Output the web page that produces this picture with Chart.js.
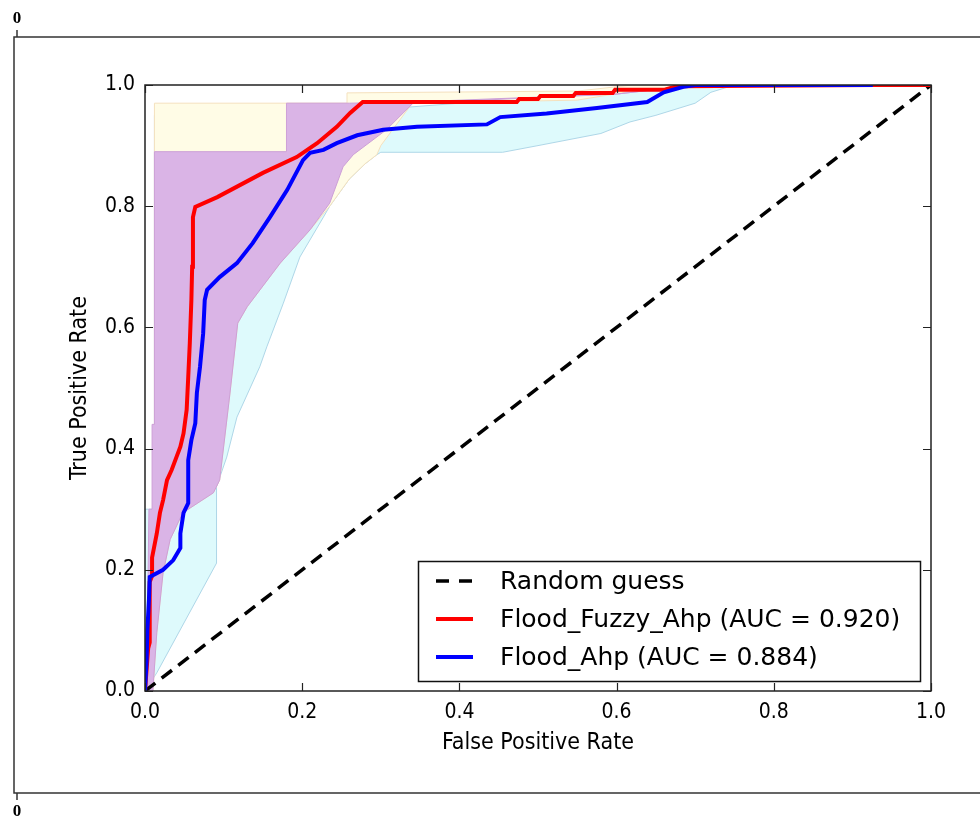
<!DOCTYPE html>
<html><head><meta charset="utf-8">
<script src="https://cdn.jsdelivr.net/npm/chart.js@4.4.1/dist/chart.umd.min.js"></script>
<style>html,body{margin:0;padding:0;background:#fff}#wrap{width:980px;height:816px;position:relative}</style>
</head><body><div id="wrap"><canvas id="c"></canvas></div>
<script>
// ---- data ----
const xTicks = [0, 0.2, 0.4, 0.6, 0.8, 1.0];
const yTicks = [0, 0.2, 0.4, 0.6, 0.8, 1.0];
const xTitle = 'False Positive Rate';
const yTitle = 'True Positive Rate';
const legendLabels = ['Random guess', 'Flood_Fuzzy_Ahp (AUC = 0.920)', 'Flood_Ahp (AUC = 0.884)'];

const randomFpr = [0, 1];
const randomTpr = [0, 1];

const fuzzyFpr = [0,0.004,0.006,0.006,0.009,0.009,0.015,0.019,0.023,0.028,0.034,0.040,0.045,0.049,0.053,0.055,0.057,0.059,0.060,0.061,0.064,0.092,0.150,0.193,0.219,0.244,0.261,0.277,0.473,0.476,0.500,0.503,0.545,0.548,0.595,0.598,0.660,0.677,0.930,1.0];
const fuzzyTpr = [0,0.07,0.08,0.18,0.19,0.22,0.26,0.294,0.315,0.348,0.365,0.386,0.403,0.425,0.464,0.518,0.574,0.645,0.70,0.782,0.799,0.815,0.855,0.881,0.904,0.931,0.954,0.972,0.972,0.977,0.977,0.982,0.982,0.987,0.987,0.992,0.992,0.998,1.0,1.0];

const ahpFpr = [0,0.002,0.003,0.005,0.006,0.023,0.036,0.045,0.045,0.049,0.055,0.055,0.059,0.064,0.066,0.070,0.074,0.076,0.079,0.095,0.117,0.137,0.159,0.181,0.201,0.210,0.227,0.244,0.270,0.303,0.346,0.435,0.452,0.511,0.575,0.639,0.660,0.685,0.700,0.926];
const ahpTpr = [0,0.05,0.10,0.15,0.188,0.20,0.216,0.236,0.26,0.294,0.31,0.381,0.414,0.442,0.492,0.535,0.59,0.645,0.662,0.683,0.706,0.739,0.782,0.827,0.876,0.888,0.893,0.904,0.917,0.926,0.931,0.935,0.947,0.953,0.962,0.972,0.988,0.997,1.0,1.0];

// confidence bands (upper and lower boundaries)
const cyanUpperFpr = [0,0,0.012,0.012,0.30,0.45,0.55,0.60,0.65,1.0];
const cyanUpperTpr = [0,0.30,0.30,0.95,0.96,0.975,0.985,0.99,1.0,1.0];
const cyanLowerFpr = [0,0.015,0.091,0.091,0.104,0.117,0.146,0.155,0.176,0.197,0.227,0.235,0.26,0.28,0.295,0.30,0.455,0.50,0.58,0.617,0.65,0.70,0.72,0.75,1.0];
const cyanLowerTpr = [0,0.03,0.211,0.337,0.386,0.452,0.535,0.568,0.64,0.716,0.782,0.80,0.845,0.87,0.885,0.889,0.889,0.90,0.92,0.939,0.95,0.97,0.988,1.0,1.0];

const creamUpperFpr = [0,0.012,0.012,0.257,0.257,0.55,0.62,1.0];
const creamUpperTpr = [0,0.20,0.97,0.97,0.987,0.99,1.0,1.0];
const creamLowerFpr = [0,0.01,0.015,0.023,0.032,0.048,0.087,0.095,0.108,0.118,0.13,0.172,0.21,0.235,0.26,0.28,0.295,0.30,0.34,0.55,0.62,0.75,1.0];
const creamLowerTpr = [0,0.0,0.096,0.195,0.25,0.294,0.327,0.348,0.49,0.607,0.634,0.706,0.761,0.80,0.845,0.87,0.885,0.90,0.97,0.975,0.99,1.0,1.0];

const purpleUpperFpr = [0,0.003,0.005,0.009,0.009,0.012,0.012,0.18,0.18,0.26,0.34,0.60,0.70,1.0];
const purpleUpperTpr = [0,0.10,0.30,0.30,0.44,0.44,0.89,0.89,0.97,0.97,0.972,0.985,1.0,1.0];
const purpleLowerFpr = [0,0.01,0.015,0.023,0.032,0.048,0.087,0.095,0.108,0.118,0.13,0.172,0.21,0.235,0.252,0.265,0.307,0.341,0.60,0.70,1.0];
const purpleLowerTpr = [0,0.0,0.096,0.195,0.25,0.294,0.327,0.348,0.49,0.607,0.634,0.706,0.761,0.805,0.865,0.885,0.926,0.97,0.985,1.0,1.0];

// ---- helpers ----
const zip = (xs, ys) => xs.map((x, i) => ({x: x, y: ys[i]}));
const polygon = (ux, uy, lx, ly) => zip(ux, uy).concat(zip(lx, ly).reverse());

const tickFont = {family: '"DejaVu Sans Condensed", "DejaVu Sans", sans-serif', size: 21};
const titleFont = {family: '"DejaVu Sans Condensed", "DejaVu Sans", sans-serif', size: 23};

const bandDs = (pts, fillC, edgeC, ord) => ({
  data: pts, fill: 'shape', backgroundColor: fillC, borderColor: edgeC, borderWidth: 1,
  pointRadius: 0, tension: 0, order: ord, clip: 0
});

const datasets = [
  bandDs(polygon(cyanUpperFpr, cyanUpperTpr, cyanLowerFpr, cyanLowerTpr), 'rgb(222,250,252)', 'rgb(175,215,232)', 6),
  bandDs(polygon(creamUpperFpr, creamUpperTpr, creamLowerFpr, creamLowerTpr), 'rgb(255,252,230)', 'rgb(245,225,190)', 5),
  bandDs(polygon(purpleUpperFpr, purpleUpperTpr, purpleLowerFpr, purpleLowerTpr), 'rgb(218,180,230)', 'rgb(205,160,215)', 4),
  {label: legendLabels[0], data: zip(randomFpr, randomTpr), borderColor: '#000', borderWidth: 3.5, borderDash: [13, 8],
   pointRadius: 0, fill: false, order: 3, clip: 0, legendItem: true},
  {label: legendLabels[1], data: zip(fuzzyFpr, fuzzyTpr), borderColor: '#ff0000', borderWidth: 4,
   pointRadius: 0, fill: false, order: 2, clip: 0, legendItem: true},
  {label: legendLabels[2], data: zip(ahpFpr, ahpTpr), borderColor: '#0000ff', borderWidth: 4,
   pointRadius: 0, fill: false, order: 1, clip: 0, legendItem: true}
];

// outer frame of the embedding figure
const outerFrame = {
  id: 'outerFrame',
  beforeDraw(chart) {
    const ctx = chart.ctx;
    ctx.save();
    ctx.fillStyle = '#fff';
    ctx.fillRect(0, 0, chart.width, chart.height);
    ctx.strokeStyle = '#333';
    ctx.lineWidth = 1.5;
    ctx.beginPath();
    ctx.moveTo(980, 37); ctx.lineTo(14, 37); ctx.lineTo(14, 793); ctx.lineTo(980, 793);
    ctx.moveTo(17, 30); ctx.lineTo(17, 37);
    ctx.moveTo(17, 793); ctx.lineTo(17, 800);
    ctx.stroke();
    ctx.fillStyle = '#000';
    ctx.font = 'bold 17px "Liberation Serif", serif';
    ctx.textAlign = 'center';
    ctx.textBaseline = 'middle';
    ctx.fillText('0', 17, 19);
    ctx.fillText('0', 17, 812);
    ctx.restore();
  }
};

// axes box + inward ticks
const axesBox = {
  id: 'axesBox',
  afterDatasetsDraw(chart) {
    const {ctx, chartArea: a, scales} = chart;
    ctx.save();
    ctx.strokeStyle = '#222';
    ctx.lineWidth = 1.5;
    ctx.strokeRect(a.left, a.top, a.right - a.left, a.bottom - a.top);
    ctx.lineWidth = 1.2;
    ctx.beginPath();
    const L = 8;
    xTicks.forEach(v => {
      const px = Math.round(scales.x.getPixelForValue(v)) + 0.5;
      ctx.moveTo(px, a.bottom); ctx.lineTo(px, a.bottom - L);
      ctx.moveTo(px, a.top); ctx.lineTo(px, a.top + L);
    });
    yTicks.forEach(v => {
      const py = Math.round(scales.y.getPixelForValue(v)) + 0.5;
      ctx.moveTo(a.left, py); ctx.lineTo(a.left + L, py);
      ctx.moveTo(a.right, py); ctx.lineTo(a.right - L, py);
    });
    ctx.stroke();
    ctx.restore();
  }
};

// legend box in lower right
const boxLegend = {
  id: 'boxLegend',
  afterDraw(chart) {
    const ctx = chart.ctx;
    const items = chart.data.datasets.filter(d => d.legendItem);
    const bx = 418, by = 561, bw = 502, bh = 120;
    ctx.save();
    ctx.fillStyle = '#fff';
    ctx.fillRect(bx, by, bw, bh);
    ctx.strokeStyle = '#111';
    ctx.lineWidth = 1.5;
    ctx.strokeRect(bx + 0.5, by + 0.5, bw, bh);
    ctx.font = '25px "DejaVu Sans", sans-serif';
    ctx.textBaseline = 'middle';
    ctx.textAlign = 'left';
    items.forEach((d, i) => {
      const y = 581 + i * 38;
      ctx.beginPath();
      ctx.strokeStyle = d.borderColor;
      ctx.lineWidth = d.borderWidth;
      ctx.setLineDash(d.borderDash ? [13, 10] : []);
      ctx.moveTo(436, y); ctx.lineTo(473, y);
      ctx.stroke();
      ctx.setLineDash([]);
      ctx.fillStyle = '#000';
      ctx.fillText(d.label, 500, y + 1);
    });
    ctx.restore();
  }
};

new Chart(document.getElementById('c'), {
  type: 'line',
  data: {datasets: datasets},
  options: {
    responsive: true,
    maintainAspectRatio: false,
    animation: false,
    layout: {padding: {left: 0, top: 85, right: 49, bottom: 0}},
    plugins: {legend: {display: false}, tooltip: {enabled: false}},
    elements: {line: {tension: 0}},
    scales: {
      x: {
        type: 'linear', min: 0, max: 1,
        afterBuildTicks: s => { s.ticks = xTicks.map(v => ({value: v})); },
        afterFit: s => { s.height = 125; },
        ticks: {callback: v => v.toFixed(1), color: '#000', font: tickFont, padding: 9, maxRotation: 0},
        grid: {display: false, drawTicks: false},
        border: {display: false},
        title: {display: true, text: xTitle, color: '#000', font: titleFont, padding: {top: 0, bottom: 59}}
      },
      y: {
        type: 'linear', min: 0, max: 1,
        afterBuildTicks: s => { s.ticks = yTicks.map(v => ({value: v})); },
        afterFit: s => { s.width = 145; },
        ticks: {callback: v => v.toFixed(1), color: '#000', font: tickFont, padding: 10},
        grid: {display: false, drawTicks: false},
        border: {display: false},
        title: {display: true, text: yTitle, color: '#000', font: titleFont, padding: {top: 66, bottom: 0}}
      }
    }
  },
  plugins: [outerFrame, axesBox, boxLegend]
});
</script>
</body></html>
